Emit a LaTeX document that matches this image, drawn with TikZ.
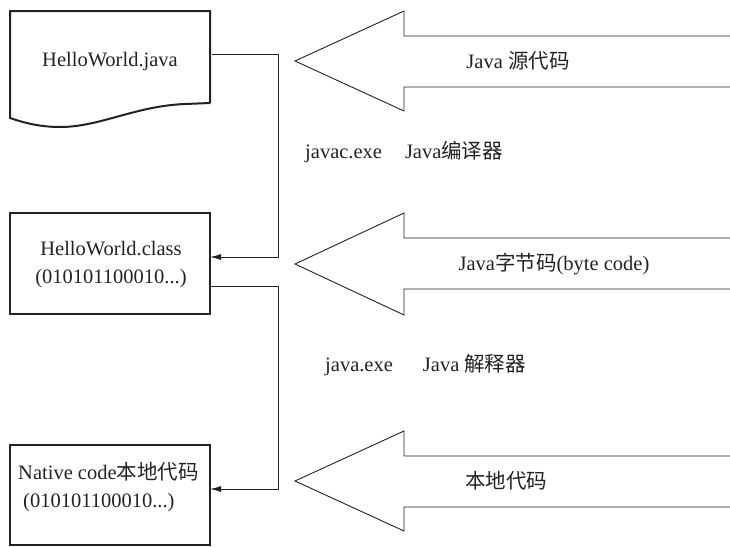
\documentclass[tikz,border=0pt]{standalone}
\usepackage{fontspec}
\setmainfont{Liberation Serif}
\newfontfamily\cjk{Noto Sans CJK SC}
\usetikzlibrary{arrows.meta}
\definecolor{ink}{HTML}{222222}
\begin{document}
\begin{tikzpicture}[x=1pt,y=-1pt,
  boxline/.style={draw=ink,line width=2pt},
  boxnode/.style={boxline,rectangle,anchor=north west,minimum width=200pt,inner sep=0pt,outer sep=0pt},
  conn/.style={draw=ink,line width=0.9pt,-{Latex[length=11pt,width=6pt]}},
  bigarrow/.style={draw=ink,line width=0.9pt},
  txt/.style={text=ink,font=\fontsize{20.5}{28.5}\selectfont,inner sep=0pt}]
\useasboundingbox (0,0) rectangle (730,546);
% document shape for HelloWorld.java
\draw[boxline,line join=miter] (210,103) -- (210,11) -- (10,11) -- (10,118)
  .. controls (22,122) and (38,127) .. (60,127)
  .. controls (100,127) and (135,106) .. (185,104) -- (210,103);
\node[anchor=north west,minimum width=200pt,minimum height=92pt,inner sep=0pt,outer sep=1pt] (b1) at (10,11) {};
\node[boxnode,minimum height=101pt] (b2) at (10,213) {};
\node[boxnode,minimum height=100pt] (b3) at (10,445) {};
% box texts
\node[txt] (t1) at (110,62) {HelloWorld.java};
\node[txt,align=center] (t2) at (111,264.5) {HelloWorld.class\\(010101100010...)};
\node[txt,align=left,anchor=west] (t3) at (18,487) {Native code{\cjk 本地代码}\\\hspace{5pt}(010101100010...)};
% connectors
\coordinate (s1) at (278,54);
\coordinate (e1) at (278,257);
\coordinate (s2) at (278,286);
\coordinate (e2) at (278,489);
\draw[conn] (b1.east |- s1) -- (s1) -- (e1) -- (b2.east |- e1);
\draw[conn] (b2.east |- s2) -- (s2) -- (e2) -- (b3.east |- e2);
% big arrows
\draw[bigarrow] (730,36) -- (404,36) -- (404,11) -- (295,61) -- (404,111) -- (404,87) -- (730,87);
\draw[bigarrow] (730,238) -- (404,238) -- (404,213) -- (295,264) -- (404,315) -- (404,289) -- (730,289);
\draw[bigarrow] (730,456) -- (404,456) -- (404,431) -- (295,481) -- (404,531) -- (404,507) -- (730,507);
% arrow labels
\node[txt] (a1) at (518,61) {Java {\cjk 源代码}};
\node[txt] (a2) at (554,264) {Java{\cjk 字节码}(byte code)};
\node[txt] (a3) at (506,481) {\cjk 本地代码};
% step labels
\node[txt,anchor=west] (l1) at (305,152) {javac.exe\hspace{23pt}Java{\cjk 编译器}};
\node[txt,anchor=west] (l2) at (325,365) {java.exe\hspace{30pt}Java {\cjk 解释器}};
\end{tikzpicture}
\end{document}
